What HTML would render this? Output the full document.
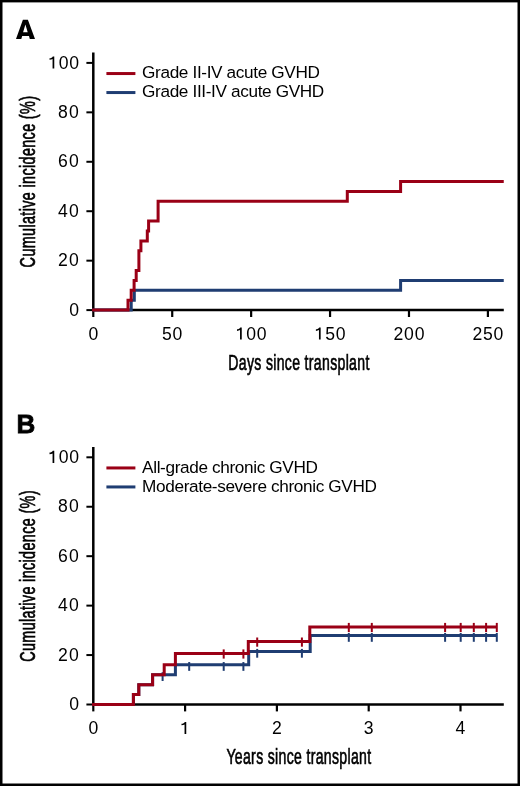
<!DOCTYPE html>
<html><head><meta charset="utf-8"><style>
html,body{margin:0;padding:0;background:#fff;}
svg{display:block;will-change:transform;}
text{font-family:"Liberation Sans",sans-serif;fill:#000;}
.tk{font-size:17.6px;}
.lg{font-size:17.2px;letter-spacing:-0.36px;}
.ttl{font-size:21.5px;font-weight:normal;stroke:#000;stroke-width:0.65px;}
.pl{font-size:27.3px;font-weight:bold;stroke:#000;stroke-width:0.8px;}
</style></head><body>
<svg width="520" height="786" viewBox="0 0 520 786">
<rect x="0" y="0" width="520" height="786" fill="#000"/>
<rect x="2.5" y="2.4" width="515" height="781.1" fill="#fff"/>
<line x1="93.3" y1="52.50" x2="93.3" y2="311.10" stroke="#000" stroke-width="2.5"/>
<line x1="92.05" y1="310.10" x2="503.8" y2="310.10" stroke="#000" stroke-width="2.5"/>
<line x1="86.4" y1="310.10" x2="93.3" y2="310.10" stroke="#000" stroke-width="2"/>
<text x="74.23" y="315.70" text-anchor="middle" class="tk">0</text>
<line x1="86.4" y1="260.66" x2="93.3" y2="260.66" stroke="#000" stroke-width="2"/>
<text x="62.85" y="266.26" text-anchor="middle" class="tk">2</text><text x="73.95" y="266.26" text-anchor="middle" class="tk">0</text>
<line x1="86.4" y1="211.22" x2="93.3" y2="211.22" stroke="#000" stroke-width="2"/>
<text x="62.85" y="216.82" text-anchor="middle" class="tk">4</text><text x="73.95" y="216.82" text-anchor="middle" class="tk">0</text>
<line x1="86.4" y1="161.78" x2="93.3" y2="161.78" stroke="#000" stroke-width="2"/>
<text x="62.85" y="167.38" text-anchor="middle" class="tk">6</text><text x="73.95" y="167.38" text-anchor="middle" class="tk">0</text>
<line x1="86.4" y1="112.34" x2="93.3" y2="112.34" stroke="#000" stroke-width="2"/>
<text x="62.85" y="117.94" text-anchor="middle" class="tk">8</text><text x="73.95" y="117.94" text-anchor="middle" class="tk">0</text>
<line x1="86.4" y1="62.90" x2="93.3" y2="62.90" stroke="#000" stroke-width="2"/>
<path d="M1.15,0 V-12.1 H-0.3 C-0.8,-10.9 -2.0,-10.4 -3.6,-10.3 V-8.7 C-2.3,-8.7 -1.3,-9.0 -0.55,-9.5 V0 Z" transform="translate(53.12 68.50)"/><text x="63.67" y="68.50" text-anchor="middle" class="tk">0</text><text x="74.22" y="68.50" text-anchor="middle" class="tk">0</text>
<line x1="93.30" y1="310.10" x2="93.30" y2="317.00" stroke="#000" stroke-width="2.2"/>
<text x="93.30" y="339.60" text-anchor="middle" class="tk">0</text>
<line x1="172.22" y1="310.10" x2="172.22" y2="317.00" stroke="#000" stroke-width="2.2"/>
<text x="166.94" y="339.60" text-anchor="middle" class="tk">5</text><text x="177.49" y="339.60" text-anchor="middle" class="tk">0</text>
<line x1="251.14" y1="310.10" x2="251.14" y2="317.00" stroke="#000" stroke-width="2.2"/>
<path d="M1.15,0 V-12.1 H-0.3 C-0.8,-10.9 -2.0,-10.4 -3.6,-10.3 V-8.7 C-2.3,-8.7 -1.3,-9.0 -0.55,-9.5 V0 Z" transform="translate(240.59 339.60)"/><text x="251.14" y="339.60" text-anchor="middle" class="tk">0</text><text x="261.69" y="339.60" text-anchor="middle" class="tk">0</text>
<line x1="330.06" y1="310.10" x2="330.06" y2="317.00" stroke="#000" stroke-width="2.2"/>
<path d="M1.15,0 V-12.1 H-0.3 C-0.8,-10.9 -2.0,-10.4 -3.6,-10.3 V-8.7 C-2.3,-8.7 -1.3,-9.0 -0.55,-9.5 V0 Z" transform="translate(319.51 339.60)"/><text x="330.06" y="339.60" text-anchor="middle" class="tk">5</text><text x="340.61" y="339.60" text-anchor="middle" class="tk">0</text>
<line x1="408.98" y1="310.10" x2="408.98" y2="317.00" stroke="#000" stroke-width="2.2"/>
<text x="398.43" y="339.60" text-anchor="middle" class="tk">2</text><text x="408.98" y="339.60" text-anchor="middle" class="tk">0</text><text x="419.53" y="339.60" text-anchor="middle" class="tk">0</text>
<line x1="487.90" y1="310.10" x2="487.90" y2="317.00" stroke="#000" stroke-width="2.2"/>
<text x="477.35" y="339.60" text-anchor="middle" class="tk">2</text><text x="487.90" y="339.60" text-anchor="middle" class="tk">5</text><text x="498.45" y="339.60" text-anchor="middle" class="tk">0</text>
<text transform="translate(298.96 369.60) scale(0.655 1)" text-anchor="middle" class="ttl" letter-spacing="0.5">Days since transplant</text>
<text transform="translate(35.3 181.54) rotate(-90) scale(0.672 1)" text-anchor="middle" class="ttl" letter-spacing="0.5">Cumulative incidence (%)</text>
<path fill-rule="evenodd" d="M16.0,38.9 L22.9,19.8 L27.9,19.8 L35.0,38.9 L29.8,38.9 L29.0,35.9 L22.2,35.9 L21.3,38.9 Z M25.4,24.6 L23.1,32.2 L27.7,32.2 Z"/>
<line x1="106.4" y1="73.55" x2="135.4" y2="73.55" stroke="#9A0016" stroke-width="3"/>
<line x1="106.4" y1="92.55" x2="135.4" y2="92.55" stroke="#1F3D72" stroke-width="3"/>
<text x="142.1" y="78.35" class="lg">Grade II-IV acute GVHD</text>
<text x="142.1" y="97.25" class="lg">Grade III-IV acute GVHD</text>
<path d="M92.05,310.1 H131.2 V300.2 H134.3 V290.3 H400.6 V280.4 H503.75" fill="none" stroke="#1F3D72" stroke-width="3"/>
<path d="M92.05,310.1 H128 V300.2 H131.2 V290.3 H134.1 V280.4 H136.2 V270.5 H138.9 V250.8 H140.9 V240.9 H147.3 V231.0 H148.6 V221.1 H158.1 V201.3 H347.3 V191.4 H400.6 V181.6 H503.75" fill="none" stroke="#9A0016" stroke-width="3"/>
<line x1="93.3" y1="446.90" x2="93.3" y2="705.50" stroke="#000" stroke-width="2.5"/>
<line x1="92.05" y1="704.50" x2="503.8" y2="704.50" stroke="#000" stroke-width="2.5"/>
<line x1="86.4" y1="704.50" x2="93.3" y2="704.50" stroke="#000" stroke-width="2"/>
<text x="74.23" y="710.10" text-anchor="middle" class="tk">0</text>
<line x1="86.4" y1="655.06" x2="93.3" y2="655.06" stroke="#000" stroke-width="2"/>
<text x="62.85" y="660.66" text-anchor="middle" class="tk">2</text><text x="73.95" y="660.66" text-anchor="middle" class="tk">0</text>
<line x1="86.4" y1="605.62" x2="93.3" y2="605.62" stroke="#000" stroke-width="2"/>
<text x="62.85" y="611.22" text-anchor="middle" class="tk">4</text><text x="73.95" y="611.22" text-anchor="middle" class="tk">0</text>
<line x1="86.4" y1="556.18" x2="93.3" y2="556.18" stroke="#000" stroke-width="2"/>
<text x="62.85" y="561.78" text-anchor="middle" class="tk">6</text><text x="73.95" y="561.78" text-anchor="middle" class="tk">0</text>
<line x1="86.4" y1="506.74" x2="93.3" y2="506.74" stroke="#000" stroke-width="2"/>
<text x="62.85" y="512.34" text-anchor="middle" class="tk">8</text><text x="73.95" y="512.34" text-anchor="middle" class="tk">0</text>
<line x1="86.4" y1="457.30" x2="93.3" y2="457.30" stroke="#000" stroke-width="2"/>
<path d="M1.15,0 V-12.1 H-0.3 C-0.8,-10.9 -2.0,-10.4 -3.6,-10.3 V-8.7 C-2.3,-8.7 -1.3,-9.0 -0.55,-9.5 V0 Z" transform="translate(53.12 462.90)"/><text x="63.67" y="462.90" text-anchor="middle" class="tk">0</text><text x="74.22" y="462.90" text-anchor="middle" class="tk">0</text>
<line x1="93.30" y1="704.50" x2="93.30" y2="711.40" stroke="#000" stroke-width="2.2"/>
<text x="93.30" y="734.00" text-anchor="middle" class="tk">0</text>
<line x1="185.10" y1="704.50" x2="185.10" y2="711.40" stroke="#000" stroke-width="2.2"/>
<path d="M1.15,0 V-12.1 H-0.3 C-0.8,-10.9 -2.0,-10.4 -3.6,-10.3 V-8.7 C-2.3,-8.7 -1.3,-9.0 -0.55,-9.5 V0 Z" transform="translate(185.10 734.00)"/>
<line x1="276.90" y1="704.50" x2="276.90" y2="711.40" stroke="#000" stroke-width="2.2"/>
<text x="276.90" y="734.00" text-anchor="middle" class="tk">2</text>
<line x1="368.70" y1="704.50" x2="368.70" y2="711.40" stroke="#000" stroke-width="2.2"/>
<text x="368.70" y="734.00" text-anchor="middle" class="tk">3</text>
<line x1="460.50" y1="704.50" x2="460.50" y2="711.40" stroke="#000" stroke-width="2.2"/>
<text x="460.50" y="734.00" text-anchor="middle" class="tk">4</text>
<text transform="translate(298.96 764.00) scale(0.655 1)" text-anchor="middle" class="ttl" letter-spacing="0.5">Years since transplant</text>
<text transform="translate(35.3 575.94) rotate(-90) scale(0.672 1)" text-anchor="middle" class="ttl" letter-spacing="0.5">Cumulative incidence (%)</text>
<text transform="translate(16.5 432.7)" class="pl" style="font-size:26px">B</text>
<line x1="106.4" y1="467.95" x2="135.4" y2="467.95" stroke="#9A0016" stroke-width="3"/>
<line x1="106.4" y1="486.95" x2="135.4" y2="486.95" stroke="#1F3D72" stroke-width="3"/>
<text x="142.1" y="472.75" class="lg">All-grade chronic GVHD</text>
<text x="142.1" y="491.65" class="lg">Moderate-severe chronic GVHD</text>
<path d="M92.05,704.5 H133.4 V694.6 H138.8 V684.7 H152.6 V674.8 H175.4 V664.65 H248.7 V651.5 H310.2 V635.6 H496.8" fill="none" stroke="#1F3D72" stroke-width="3"/>
<line x1="162.6" y1="672.20" x2="162.6" y2="681.00" stroke="#1F3D72" stroke-width="2"/>
<line x1="189.2" y1="662.05" x2="189.2" y2="670.85" stroke="#1F3D72" stroke-width="2"/>
<line x1="223.7" y1="662.05" x2="223.7" y2="670.85" stroke="#1F3D72" stroke-width="2"/>
<line x1="243.4" y1="662.05" x2="243.4" y2="670.85" stroke="#1F3D72" stroke-width="2"/>
<line x1="257.2" y1="648.90" x2="257.2" y2="657.70" stroke="#1F3D72" stroke-width="2"/>
<line x1="301.9" y1="648.90" x2="301.9" y2="657.70" stroke="#1F3D72" stroke-width="2"/>
<line x1="348.8" y1="633.00" x2="348.8" y2="641.80" stroke="#1F3D72" stroke-width="2"/>
<line x1="371.8" y1="633.00" x2="371.8" y2="641.80" stroke="#1F3D72" stroke-width="2"/>
<line x1="445.1" y1="633.00" x2="445.1" y2="641.80" stroke="#1F3D72" stroke-width="2"/>
<line x1="460.7" y1="633.00" x2="460.7" y2="641.80" stroke="#1F3D72" stroke-width="2"/>
<line x1="473.8" y1="633.00" x2="473.8" y2="641.80" stroke="#1F3D72" stroke-width="2"/>
<line x1="486.1" y1="633.00" x2="486.1" y2="641.80" stroke="#1F3D72" stroke-width="2"/>
<line x1="496.8" y1="633.00" x2="496.8" y2="641.80" stroke="#1F3D72" stroke-width="2"/>
<path d="M92.05,704.5 H133.4 V694.6 H138.8 V684.7 H152.6 V674.8 H164.2 V664.8 H175.4 V653.5 H248.3 V641.6 H309.8 V627.0 H496.8" fill="none" stroke="#9A0016" stroke-width="3"/>
<line x1="223.7" y1="649.40" x2="223.7" y2="658.60" stroke="#9A0016" stroke-width="2"/>
<line x1="243.4" y1="649.40" x2="243.4" y2="658.60" stroke="#9A0016" stroke-width="2"/>
<line x1="257.2" y1="637.50" x2="257.2" y2="646.70" stroke="#9A0016" stroke-width="2"/>
<line x1="301.9" y1="637.50" x2="301.9" y2="646.70" stroke="#9A0016" stroke-width="2"/>
<line x1="348.8" y1="622.90" x2="348.8" y2="632.10" stroke="#9A0016" stroke-width="2"/>
<line x1="371.8" y1="622.90" x2="371.8" y2="632.10" stroke="#9A0016" stroke-width="2"/>
<line x1="445.1" y1="622.90" x2="445.1" y2="632.10" stroke="#9A0016" stroke-width="2"/>
<line x1="460.7" y1="622.90" x2="460.7" y2="632.10" stroke="#9A0016" stroke-width="2"/>
<line x1="473.8" y1="622.90" x2="473.8" y2="632.10" stroke="#9A0016" stroke-width="2"/>
<line x1="486.1" y1="622.90" x2="486.1" y2="632.10" stroke="#9A0016" stroke-width="2"/>
<line x1="496.8" y1="622.90" x2="496.8" y2="632.10" stroke="#9A0016" stroke-width="2"/>
</svg>
</body></html>
